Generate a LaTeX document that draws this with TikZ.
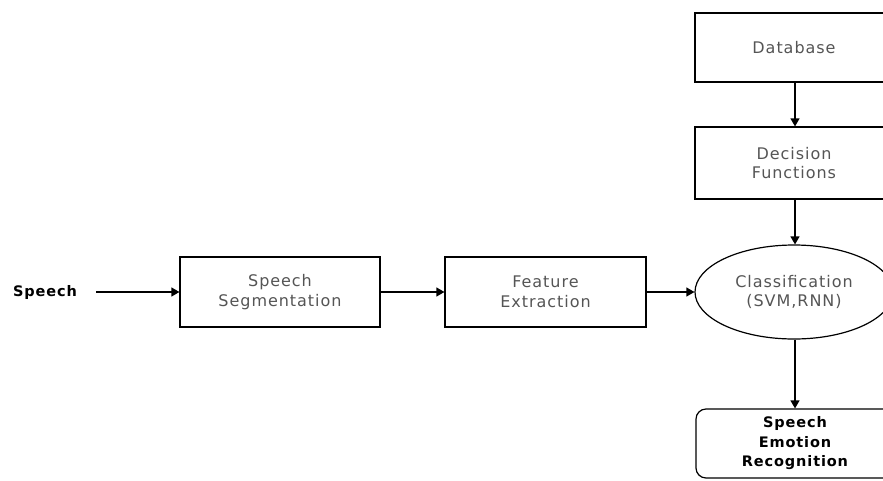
\documentclass[tikz,border=0pt]{standalone}
\usepackage{fontspec}
\setmainfont[LetterSpace=6]{DejaVu Sans}
\usetikzlibrary{shapes.geometric,arrows.meta}
\definecolor{txt}{HTML}{555555}
\begin{document}
\begin{tikzpicture}[x=1pt,y=-1pt,
  lbl/.style={align=center,text=txt,font=\fontsize{16}{19.5}\selectfont},
  box/.style={lbl,draw,line width=1.2pt,minimum width=200pt,minimum height=70pt},
  oval/.style={lbl,draw,line width=1.2pt,ellipse,minimum width=198pt,minimum height=94pt},
  rbox/.style={draw,line width=1.2pt,rounded corners=10pt,minimum width=198pt,minimum height=69pt,align=center,text=black,font=\bfseries\fontsize{14.5}{19.5}\selectfont},
  arr/.style={-{Triangle[length=8pt,width=9pt]},line width=1.2pt}]
\useasboundingbox (0,0) rectangle (883,480);
\clip (0,0) rectangle (883,480);
\node[font=\bfseries\fontsize{14.5}{19}\selectfont] (sp) at (45,292) {Speech};
\node[box] (seg) at (280,292) {Speech\\Segmentation};
\node[box,minimum width=201pt] (fe) at (545.5,292) {Feature\\Extraction};
\node[oval] (cl) at (794,292) {Classification\\(SVM,RNN)};
\node[box,minimum width=198pt,minimum height=69pt] (db) at (794,47.5) {Database};
\node[box,minimum width=198pt,minimum height=72pt] (df) at (794,163) {Decision\\Functions};
\node[rbox] (ser) at (795,443.5) {Speech\\Emotion\\Recognition};
\draw[arr] (96,292) -- (seg.west);
\draw[arr] (seg.east) -- (fe.west);
\draw[arr] (fe.east) -- (cl.west);
\draw[arr] (db.south -| 795,0) -- (df.north -| 795,0);
\draw[arr] (df.south -| 795,0) -- (cl.north -| 795,0);
\draw[arr] (cl.south -| 795,0) -- (ser.north -| 795,0);
\end{tikzpicture}
\end{document}
